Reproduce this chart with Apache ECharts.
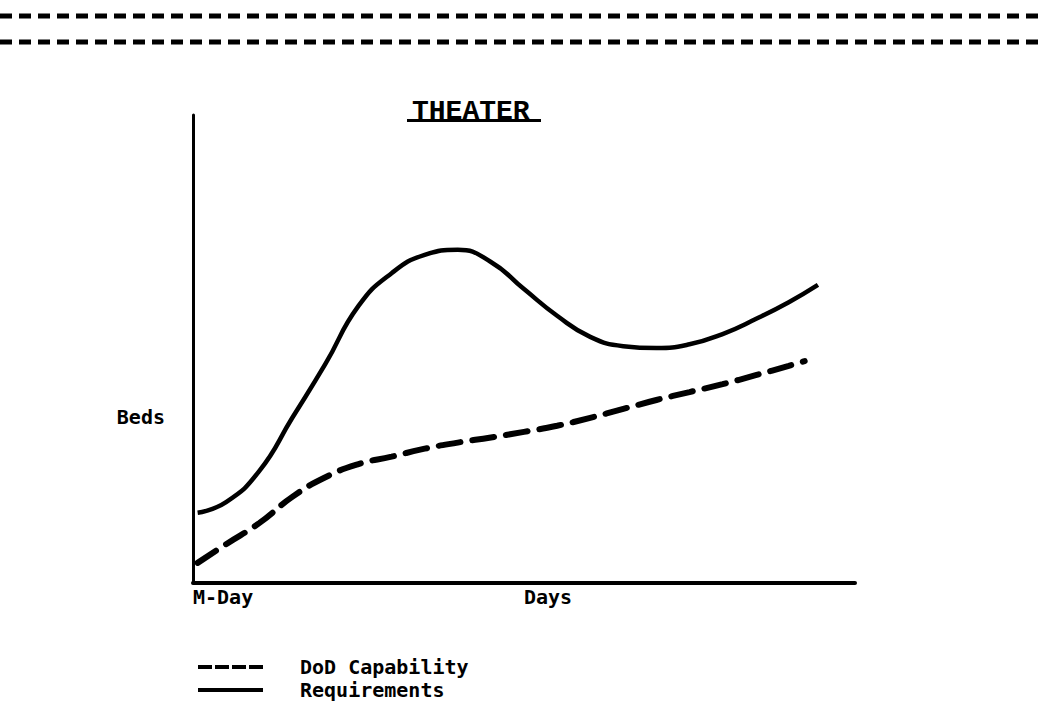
<!DOCTYPE html>
<html>
<head>
<meta charset="utf-8">
<title>Theater</title>
<script src="https://cdn.jsdelivr.net/npm/echarts@6/dist/echarts.min.js"></script>
<style>
  html, body { margin: 0; padding: 0; background: #fff; }
  #chart { width: 1045px; height: 709px; }
</style>
</head>
<body>
<div id="chart"></div>
<script>
// values, x = days (0..100), y = beds (0..100)
const days = [0.7, 5, 10, 15, 20, 25, 30, 35, 40, 45, 50, 55, 60, 65, 70, 75, 80, 85, 90];
const reqY = [15.0, 17.3, 23.9, 35.3, 46.8, 59.2, 66.2, 70.1, 71.2, 68.6, 62.8, 57.1, 52.6, 50.6, 50.2, 51.0, 53.2, 56.4, 60.0];
const reqEnd = [94.4, 63.7];

const dodY = [4.3, 8.3, 12.8, 18.4, 22.6, 25.4, 27.0, 28.7, 30.0, 31.1, 32.3, 33.6, 35.3, 37.2, 39.1, 40.8, 42.5, 44.4, 46.4];
const dodEnd = [92.4, 47.4];

const xLabels = ['M-Day', 'Days'];
const xLabelAt = [0, 50];
const yLabel = 'Beds';
const yLabelAt = 35.5;
const seriesNames = ['DoD Capability', 'Requirements'];

const chart = echarts.init(document.getElementById('chart'), null, { renderer: 'svg' });

const mono = 'DejaVu Sans Mono';

const reqData = days.map((x, i) => [x, reqY[i]]).concat([reqEnd]);
const dodData = days.map((x, i) => [x, dodY[i]]).concat([dodEnd]);

const option = {
  backgroundColor: '#fff',
  animation: false,
  title: {
    text: 'THEATER',
    left: 407,
    top: 92,
    textStyle: {
      fontFamily: 'Liberation Mono',
      fontWeight: 'bold',
      fontSize: 28,
      color: '#000'
    }
  },
  legend: {
    orient: 'vertical',
    left: 193,
    top: 652,
    itemWidth: 65,
    itemHeight: 14,
    itemGap: 3,
    textStyle: {
      fontFamily: mono,
      fontWeight: 'bold',
      fontSize: 20,
      color: '#000',
      padding: [0, 0, 0, 32]
    },
    data: [
      { name: seriesNames[0], icon: 'path://M0,5 H14 V9 H0 Z M17,5 H31 V9 H17 Z M34,5 H48 V9 H34 Z M51,5 H65 V9 H51 Z' },
      { name: seriesNames[1], icon: 'path://M0,5 H65 V9 H0 Z' }
    ],
    itemStyle: { color: '#000' }
  },
  grid: { left: 193, right: 190, top: 115, bottom: 126 },
  xAxis: {
    type: 'value',
    min: 0,
    max: 100,
    splitLine: { show: false },
    axisTick: { show: false },
    axisLine: { show: true, onZero: false, lineStyle: { color: '#000', width: 4 } },
    axisLabel: {
      customValues: xLabelAt,
      formatter: function (v) { return xLabels[xLabelAt.indexOf(v)]; },
      align: 'left',
      margin: 4,
      fontFamily: mono,
      fontWeight: 'bold',
      fontSize: 20,
      color: '#000'
    }
  },
  yAxis: {
    type: 'value',
    min: 0,
    max: 100,
    splitLine: { show: false },
    axisTick: { show: false },
    axisLine: { show: true, onZero: false, lineStyle: { color: '#000', width: 3 } },
    axisLabel: {
      customValues: [yLabelAt],
      formatter: function () { return yLabel; },
      margin: 28,
      fontFamily: mono,
      fontWeight: 'bold',
      fontSize: 20,
      color: '#000'
    }
  },
  graphic: [
    {
      type: 'line',
      shape: { x1: 0, y1: 16, x2: 1045, y2: 16 },
      style: { stroke: '#000', lineWidth: 5, lineDash: [12, 7] }
    },
    {
      type: 'line',
      shape: { x1: 0, y1: 42, x2: 1045, y2: 42 },
      style: { stroke: '#000', lineWidth: 5, lineDash: [12, 7] }
    },
    {
      type: 'rect',
      shape: { x: 407, y: 119, width: 134, height: 3 },
      style: { fill: '#000' }
    }
  ],
  series: [
    {
      name: seriesNames[0],
      type: 'line',
      smooth: true,
      showSymbol: false,
      symbol: 'none',
      data: dodData,
      lineStyle: { color: '#000', width: 6, type: [22, 12], cap: 'round' },
      itemStyle: { color: '#000' }
    },
    {
      name: seriesNames[1],
      type: 'line',
      smooth: true,
      showSymbol: false,
      symbol: 'none',
      data: reqData,
      lineStyle: { color: '#000', width: 4.5 },
      itemStyle: { color: '#000' }
    }
  ]
};

chart.setOption(option);
</script>
</body>
</html>
